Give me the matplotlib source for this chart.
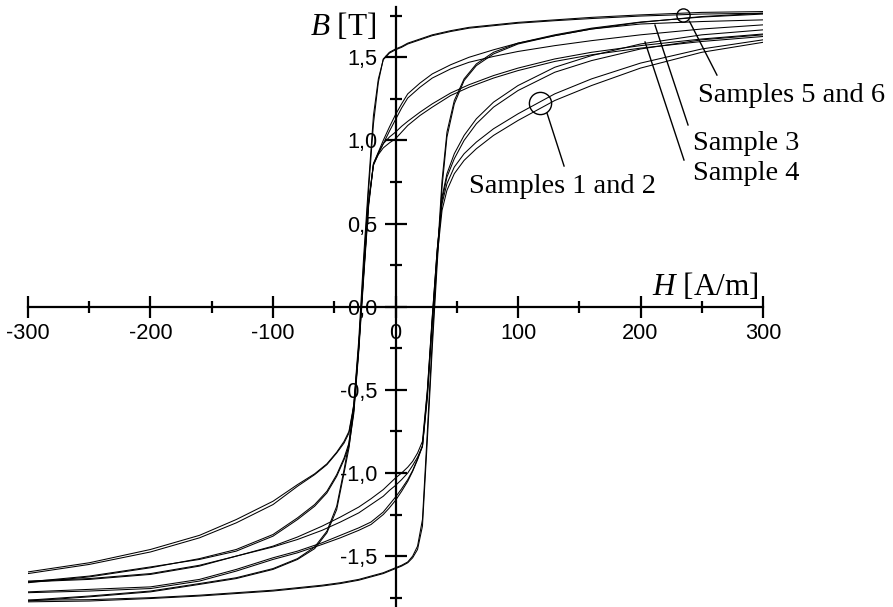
import matplotlib
matplotlib.use("Agg")
import matplotlib.pyplot as plt
from matplotlib.ticker import FixedLocator, FuncFormatter

# ---------------- data ----------------
# field grid for descending branches (from +Hmax to -Hmax), A/m
H_DOWN = [300, 250, 200, 160, 130, 100, 80, 60, 45, 30, 20, 10, 5, 0, -5, -10, -14, -18,
          -22, -26, -30, -34, -38, -42, -48, -56, -66, -80, -100, -130, -160, -200, -250, -300]
# field grid for ascending branches (from -Hmax to +Hmax), A/m
H_UP = [-300, -250, -200, -160, -130, -100, -80, -60, -45, -30, -20, -10, -5, 0, 5, 10, 14, 18,
        22, 26, 30, 34, 38, 42, 48, 56, 66, 80, 100, 130, 160, 200, 250, 300]

# Samples 1 and 2
S1_DOWN = [1.64, 1.61, 1.57, 1.53, 1.49, 1.435, 1.39, 1.335, 1.285, 1.22, 1.17, 1.115, 1.085, 1.05,
           1.02, 0.98, 0.925, 0.86, 0.62, 0.20, -0.24, -0.60, -0.76, -0.82, -0.88, -0.95, -1.01,
           -1.08, -1.19, -1.30, -1.39, -1.475, -1.55, -1.605]
S1_UP = [-1.655, -1.64, -1.61, -1.56, -1.50, -1.44, -1.385, -1.32, -1.265, -1.205, -1.155, -1.10,
         -1.065, -1.03, -1.0, -0.965, -0.93, -0.88, -0.81, -0.50, -0.06, 0.34, 0.62, 0.74, 0.84,
         0.92, 0.99, 1.07, 1.16, 1.28, 1.37, 1.465, 1.55, 1.605]
S2_DOWN = [1.625, 1.595, 1.555, 1.515, 1.475, 1.42, 1.375, 1.32, 1.27, 1.20, 1.15, 1.09, 1.05, 1.01,
           0.985, 0.955, 0.915, 0.855, 0.63, 0.21, -0.23, -0.59, -0.75, -0.81, -0.875, -0.945,
           -1.005, -1.07, -1.17, -1.28, -1.375, -1.46, -1.54, -1.595]
S2_UP = [-1.65, -1.635, -1.605, -1.555, -1.50, -1.445, -1.40, -1.345, -1.295, -1.24, -1.19, -1.14,
         -1.105, -1.075, -1.04, -1.0, -0.955, -0.905, -0.84, -0.55, -0.10, 0.30, 0.58, 0.70, 0.80,
         0.88, 0.95, 1.03, 1.12, 1.24, 1.33, 1.435, 1.53, 1.59]

# Sample 3
S3_DOWN = [1.725, 1.715, 1.70, 1.67, 1.63, 1.585, 1.545, 1.50, 1.455, 1.40, 1.345, 1.28, 1.22, 1.155,
           1.08, 1.00, 0.93, 0.86, 0.60, 0.17, -0.27, -0.64, -0.84, -0.92, -1.02, -1.12, -1.20,
           -1.28, -1.38, -1.47, -1.52, -1.565, -1.62, -1.655]
S3_UP = [-1.72, -1.71, -1.695, -1.65, -1.59, -1.52, -1.48, -1.43, -1.39, -1.345, -1.31, -1.25,
         -1.21, -1.165, -1.11, -1.05, -0.99, -0.92, -0.84, -0.53, -0.09, 0.32, 0.66, 0.80, 0.92,
         1.03, 1.13, 1.23, 1.33, 1.44, 1.51, 1.58, 1.635, 1.665]

# Sample 4
S4_DOWN = [1.695, 1.67, 1.635, 1.60, 1.57, 1.535, 1.505, 1.47, 1.43, 1.375, 1.32, 1.255, 1.195, 1.125,
           1.055, 0.98, 0.92, 0.85, 0.62, 0.19, -0.25, -0.62, -0.82, -0.91, -1.01, -1.11, -1.19,
           -1.27, -1.37, -1.46, -1.515, -1.57, -1.625, -1.66]
S4_UP = [-1.715, -1.70, -1.685, -1.64, -1.58, -1.51, -1.47, -1.42, -1.375, -1.33, -1.295, -1.235,
         -1.19, -1.145, -1.095, -1.04, -0.985, -0.915, -0.835, -0.51, -0.07, 0.34, 0.64, 0.78, 0.89,
         1.00, 1.10, 1.20, 1.30, 1.41, 1.48, 1.55, 1.605, 1.635]

# Samples 5 and 6 (square loops)
S5_DOWN = [1.775, 1.77, 1.755, 1.74, 1.725, 1.71, 1.695, 1.68, 1.66, 1.635, 1.61, 1.585, 1.565, 1.55,
           1.53, 1.49, 1.35, 1.10, 0.70, 0.25, -0.25, -0.62, -0.85, -1.00, -1.22, -1.36, -1.455,
           -1.52, -1.58, -1.635, -1.67, -1.715, -1.745, -1.77]
S5_UP = [-1.775, -1.77, -1.755, -1.74, -1.725, -1.71, -1.695, -1.68, -1.665, -1.645, -1.625, -1.605,
         -1.59, -1.575, -1.56, -1.54, -1.51, -1.46, -1.32, -0.80, -0.25, 0.25, 0.72, 1.02, 1.22,
         1.36, 1.45, 1.52, 1.58, 1.63, 1.67, 1.71, 1.745, 1.765]
S6_DOWN = [1.765, 1.76, 1.748, 1.733, 1.72, 1.705, 1.69, 1.675, 1.655, 1.63, 1.605, 1.58, 1.56, 1.545,
           1.525, 1.485, 1.37, 1.15, 0.74, 0.30, -0.20, -0.58, -0.82, -0.98, -1.20, -1.35, -1.445,
           -1.515, -1.575, -1.63, -1.665, -1.71, -1.74, -1.765]
S6_UP = [-1.765, -1.762, -1.75, -1.735, -1.72, -1.705, -1.69, -1.675, -1.66, -1.64, -1.62, -1.60,
         -1.585, -1.57, -1.555, -1.535, -1.50, -1.44, -1.28, -0.75, -0.20, 0.30, 0.76, 1.05, 1.24,
         1.37, 1.46, 1.53, 1.585, 1.635, 1.675, 1.712, 1.742, 1.76]

X_MAJOR = [-300, -200, -100, 0, 100, 200, 300]
X_MINOR = [-250, -150, -50, 50, 150, 250]
Y_MAJOR = [-1.5, -1.0, -0.5, 0.0, 0.5, 1.0, 1.5]
Y_MINOR = [-1.75, -1.25, -0.75, -0.25, 0.25, 0.75, 1.25, 1.75]

# annotation anchors (data coordinates)
LABELS = ["Samples 1 and 2", "Samples 5 and 6", "Sample 3", "Sample 4"]
LABEL_POS = [(60.0, 0.683), (247.0, 1.231), (243.0, 0.942), (243.0, 0.762)]
POINTER_START = [(123.7, 1.164), (240.0, 1.716), (211.8, 1.694), (203.7, 1.592)]
POINTER_END = [(137.6, 0.846), (262.4, 1.393), (238.8, 1.093), (235.5, 0.882)]
CIRCLES = [(118.0, 1.225, 16.0), (235.0, 1.754, 9.5)]

# ---------------- drawing ----------------
plt.rcParams["font.family"] = ["Liberation Sans", "DejaVu Sans"]
plt.rcParams["mathtext.fontset"] = "custom"
plt.rcParams["mathtext.it"] = "Liberation Serif:italic"
plt.rcParams["mathtext.rm"] = "Liberation Serif"

fig = plt.figure(figsize=(8.93, 6.07), dpi=100)
fig.patch.set_facecolor("white")
ax = fig.add_axes([28.0 / 893, 1 - 606.0 / 607, 735.0 / 893, (606.0 - 7.4) / 607])
ax.set_xlim(-300, 300)
ax.set_ylim(-1.8, 1.8)
ax.patch.set_visible(False)

loops = [(S1_DOWN, S1_UP), (S2_DOWN, S2_UP), (S3_DOWN, S3_UP),
         (S4_DOWN, S4_UP), (S5_DOWN, S5_UP), (S6_DOWN, S6_UP)]
for down, up in loops:
    ax.plot(H_DOWN, down, color="black", lw=0.75, solid_joinstyle="round")
    ax.plot(H_UP, up, color="black", lw=0.75, solid_joinstyle="round")

for s in ["top", "right"]:
    ax.spines[s].set_visible(False)
for s in ["left", "bottom"]:
    ax.spines[s].set_position(("data", 0))
    ax.spines[s].set_linewidth(1.6)
    ax.spines[s].set_zorder(5)

ax.xaxis.set_major_locator(FixedLocator(X_MAJOR))
ax.xaxis.set_minor_locator(FixedLocator(X_MINOR))
ax.yaxis.set_major_locator(FixedLocator(Y_MAJOR))
ax.yaxis.set_minor_locator(FixedLocator(Y_MINOR))
ax.xaxis.set_major_formatter(FuncFormatter(lambda v, p: f"{v:.0f}"))
ax.yaxis.set_major_formatter(FuncFormatter(lambda v, p: f"{v:.1f}".replace(".", ",")))

ax.tick_params(which="major", direction="inout", length=16, width=1.6, labelsize=15.7)
ax.tick_params(which="minor", direction="inout", length=8.5, width=1.6)
ax.tick_params(axis="x", which="major", pad=4)
ax.tick_params(axis="y", which="major", pad=5)

serif = ["Liberation Serif", "DejaVu Serif"]
ax.text(296.7, 0.07, r"$H$ [A/m]", family=serif, fontsize=22.5, ha="right", va="baseline")
ax.text(-69.8, 1.634, r"$B$ [T]", family=serif, fontsize=22.5, ha="left", va="baseline")

for (x, y, ms) in CIRCLES:
    ax.plot([x], [y], marker="o", ms=ms, mfc="none", mec="black", mew=1.0, clip_on=False)
for (x0, y0), (x1, y1) in zip(POINTER_START, POINTER_END):
    ax.plot([x0, x1], [y0, y1], color="black", lw=1.0, clip_on=False)
for txt, (x, y) in zip(LABELS, LABEL_POS):
    ax.text(x, y, txt, family=serif, fontsize=20.5, ha="left", va="baseline")

fig.savefig("out.png", dpi=100, facecolor="white")
